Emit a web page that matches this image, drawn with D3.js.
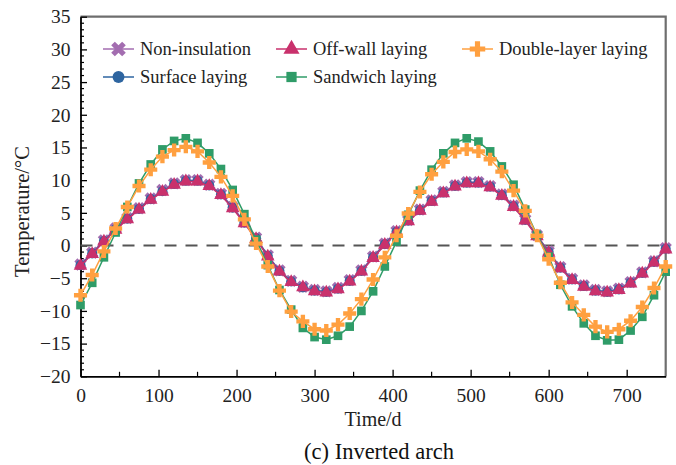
<!DOCTYPE html>
<html><head><meta charset="utf-8">
<script src="https://cdn.jsdelivr.net/npm/d3@7"></script>
<style>body{margin:0;background:#fff}svg{display:block}</style>
</head><body>
<script>
// Days sampled every 15 d
const days = [0,15,30,45,60,75,90,105,120,135,150,165,180,195,210,225,240,255,270,285,300,315,330,345,360,375,390,405,420,435,450,465,480,495,510,525,540,555,570,585,600,615,630,645,660,675,690,705,720,735,750];
const nonInsulation = [-2.9,-1.1,0.8,2.6,4.2,5.7,7.2,8.5,9.5,10.0,10.0,9.3,7.9,5.9,3.6,1.2,-1.5,-3.8,-5.4,-6.3,-6.8,-7.0,-6.5,-5.3,-3.8,-1.7,0.3,2.2,3.9,5.5,6.9,8.2,9.2,9.7,9.7,9.1,7.8,6.1,4.0,1.6,-0.9,-3.3,-5.1,-6.1,-6.8,-7.0,-6.6,-5.6,-4.1,-2.4,-0.4];
const surfaceLaying = [-3.0,-1.2,0.7,2.5,4.1,5.6,7.1,8.3,9.4,9.9,9.9,9.2,7.8,5.8,3.5,1.1,-1.6,-3.9,-5.5,-6.4,-6.9,-7.1,-6.6,-5.4,-3.9,-1.8,0.2,2.1,3.8,5.4,6.8,8.1,9.1,9.6,9.6,9.0,7.7,6.0,3.9,1.5,-1.0,-3.4,-5.2,-6.2,-6.9,-7.1,-6.7,-5.7,-4.2,-2.5,-0.5];
const offWallLaying = [-3.1,-1.3,0.6,2.4,4.0,5.5,7.0,8.2,9.3,9.8,9.8,9.1,7.7,5.7,3.4,1.0,-1.7,-4.0,-5.6,-6.4,-7.0,-7.2,-6.7,-5.5,-4.0,-1.9,0.1,2.0,3.7,5.3,6.7,8.0,9.0,9.5,9.5,8.9,7.6,5.9,3.8,1.4,-1.1,-3.5,-5.3,-6.3,-7.0,-7.2,-6.8,-5.8,-4.3,-2.6,-0.6];
const sandwichLaying = [-9.1,-5.7,-1.8,2.0,5.9,9.5,12.4,14.7,16.0,16.4,15.7,14.1,11.7,8.5,4.8,0.9,-3.0,-6.8,-9.8,-12.6,-14.0,-14.4,-13.8,-12.4,-10.0,-7.0,-3.2,0.6,4.7,8.4,11.6,14.1,15.7,16.4,15.9,14.4,12.1,9.3,5.5,1.6,-1.7,-6.0,-9.3,-11.9,-13.8,-14.5,-14.4,-13.0,-10.9,-7.6,-4.0];
const doubleLayerLaying = [-7.6,-4.5,-0.9,2.6,5.9,9.1,11.6,13.6,14.6,15.1,14.4,12.7,10.5,7.6,4.0,0.3,-3.2,-6.9,-10.1,-11.6,-12.8,-13.0,-12.1,-10.4,-8.2,-5.2,-1.8,1.5,4.9,8.2,10.9,12.8,14.3,14.7,14.4,13.2,11.3,8.4,5.3,1.5,-2.1,-5.7,-8.7,-10.6,-12.4,-13.2,-12.8,-11.5,-9.4,-6.5,-3.2];
const seriesNames = ["Non-insulation","Surface laying","Off-wall laying","Sandwich laying","Double-layer laying"];
const xTickValues = [0,100,200,300,400,500,600,700];
const yTickValues = [-20,-15,-10,-5,0,5,10,15,20,25,30,35];
const xLabel = "Time/d";
const yLabel = "Temperature/°C";
const caption = "(c) Inverted arch";

const W = 676, H = 465;
const M = {l: 80.5, r: 665.7, t: 16.7, b: 376.3};
const svg = d3.select("body").append("svg").attr("width", W).attr("height", H);
svg.append("rect").attr("width", W).attr("height", H).attr("fill", "#fff");

const x = d3.scaleLinear().domain([0, 750]).range([M.l, M.r]);
const y = d3.scaleLinear().domain([-20, 35]).range([M.b, M.t]);
const font = "'Liberation Serif','Times New Roman',serif";

// frame top & right
svg.append("path").attr("d", `M${M.l},${M.t}H${M.r}V${M.b}`).attr("fill","none").attr("stroke","#6e6e6e").attr("stroke-width",2.2);

// minor ticks
const gMinor = svg.append("g");
d3.range(-20, 36, 1).forEach(v => {
  if (v % 5 !== 0) gMinor.append("line").attr("x1", M.l).attr("x2", M.l + 3.5).attr("y1", y(v)).attr("y2", y(v)).attr("stroke", "#000").attr("stroke-width", 1.2);
});
d3.range(50, 750, 100).forEach(v => {
  gMinor.append("line").attr("x1", x(v)).attr("x2", x(v)).attr("y1", M.b).attr("y2", M.b - 4.5).attr("stroke", "#000").attr("stroke-width", 1.2);
});

// axes
const xAxis = d3.axisBottom(x).tickValues(xTickValues).tickSizeInner(-6.5).tickSizeOuter(0).tickPadding(12);
const yAxis = d3.axisLeft(y).tickValues(yTickValues).tickSizeInner(-6.5).tickSizeOuter(0).tickPadding(10);
const gx = svg.append("g").attr("transform", `translate(0,${M.b})`).call(xAxis);
const gy = svg.append("g").attr("transform", `translate(${M.l},0)`).call(yAxis);
[gx, gy].forEach(g => {
  g.select(".domain").attr("stroke", "#000").attr("stroke-width", 1.8);
  g.selectAll(".tick line").attr("stroke", "#000").attr("stroke-width", 1.3);
  g.selectAll(".tick text").attr("font-family", font).attr("font-size", 19.5).attr("fill", "#222");
});

// zero dashed line
svg.append("line").attr("x1", M.l).attr("x2", M.r).attr("y1", y(0)).attr("y2", y(0))
  .attr("stroke", "#555").attr("stroke-width", 2).attr("stroke-dasharray", "12,9");

// labels
svg.append("text").attr("x", (M.l + M.r) / 2).attr("y", 426).attr("text-anchor", "middle")
  .attr("font-family", font).attr("font-size", 20).attr("fill", "#222").text(xLabel);
svg.append("text").attr("transform", `translate(29,${(M.t + M.b) / 2 + 15}) rotate(-90)`).attr("text-anchor", "middle")
  .attr("font-family", font).attr("font-size", 20.5).attr("fill", "#222").text(yLabel);
svg.append("text").attr("x", 379).attr("y", 459).attr("text-anchor", "middle")
  .attr("font-family", "'Liberation Serif',serif").attr("font-size", 22.5).attr("fill", "#111").text(caption);

const series = [
  {name: seriesNames[0], vals: nonInsulation, color: "#a36db0", sym: "x", size: 95},
  {name: seriesNames[1], vals: surfaceLaying, color: "#2e65a0", sym: d3.symbolCircle, size: 80},
  {name: seriesNames[2], vals: offWallLaying, color: "#c9316c", sym: d3.symbolTriangle, size: 80},
  {name: seriesNames[3], vals: sandwichLaying, color: "#2f9c68", sym: d3.symbolSquare, size: 75},
  {name: seriesNames[4], vals: doubleLayerLaying, color: "#ffa040", sym: d3.symbolCross, size: 95}
];

function marker(g, s, cx, cy) {
  if (s.sym === "x") {
    g.append("path").attr("d", d3.symbol(d3.symbolCross, s.size)()).attr("fill", s.color)
      .attr("transform", `translate(${cx},${cy}) rotate(45)`);
  } else {
    g.append("path").attr("d", d3.symbol(s.sym, s.size)()).attr("fill", s.color)
      .attr("transform", `translate(${cx},${cy})`);
  }
}

const line = d3.line().x((d, i) => x(days[i])).y(d => y(d));
series.forEach(s => {
  const g = svg.append("g");
  g.append("path").datum(s.vals).attr("d", line).attr("fill", "none").attr("stroke", s.color).attr("stroke-width", 1.5);
  s.vals.forEach((v, i) => marker(g, s, x(days[i]), y(v)));
});

// legend
const legendPos = [
  {lx: 103, ly: 49}, {lx: 103, ly: 77}, {lx: 276, ly: 49}, {lx: 276, ly: 77}, {lx: 462, ly: 49}
];
series.forEach((s, i) => {
  const p = legendPos[i];
  const g = svg.append("g");
  g.append("line").attr("x1", p.lx).attr("x2", p.lx + 31).attr("y1", p.ly).attr("y2", p.ly).attr("stroke", s.color).attr("stroke-width", 1.5);
  marker(g, {...s, size: s.size * 1.4}, p.lx + 15.5, p.ly);
  g.append("text").attr("x", p.lx + 37).attr("y", p.ly + 6).attr("font-family", font).attr("font-size", 18.5).attr("fill", "#222").text(s.name);
});
</script>
</body></html>
